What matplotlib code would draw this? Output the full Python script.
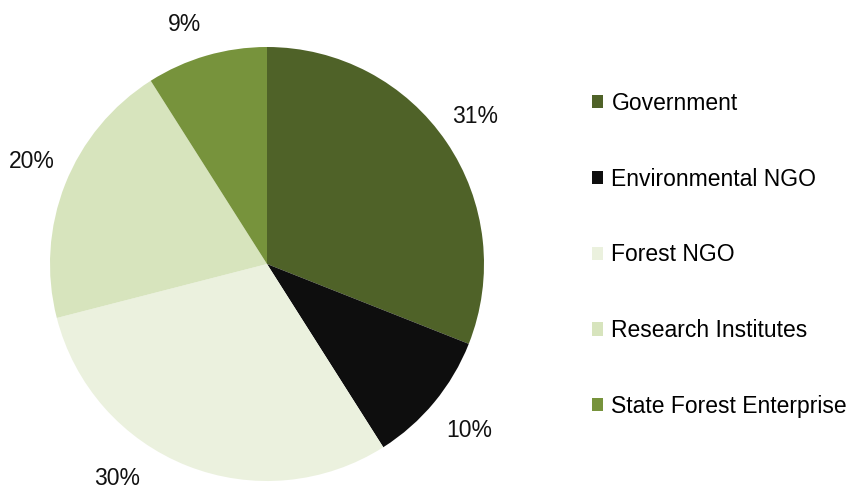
import matplotlib
matplotlib.use('Agg')
import numpy as np
import matplotlib.pyplot as plt

plt.rcParams['font.family'] = ['Liberation Sans', 'DejaVu Sans']

sectors = ['Government', 'Environmental NGO', 'Forest NGO',
           'Research Institutes', 'State Forest Enterprise']
shares = [31, 10, 30, 20, 9]
colors = ['#4f6228', '#0e0e0e', '#ebf1de', '#d7e4bd', '#77933c']
# small angular nudges (degrees) for the percentage labels
label_shift = [2, 1, -14, -3, 2.5]

W, H = 852, 494
fig = plt.figure(figsize=(W / 100, H / 100), dpi=100)
ax = fig.add_axes([0, 0, 1, 1])

cx, cy, r = 267, H - 264, 217
wedges, _ = ax.pie(shares, colors=colors, startangle=90, counterclock=False,
                   center=(cx, cy), radius=r, frame=True,
                   wedgeprops=dict(linewidth=0))
ax.set_xlim(0, W)
ax.set_ylim(0, H)
ax.axis('off')

# percentage labels outside each wedge
for w, val, shift in zip(wedges, shares, label_shift):
    mid = np.deg2rad((w.theta1 + w.theta2) / 2 + shift)
    lr = r * 1.19
    ax.text(cx + lr * np.cos(mid), cy + lr * np.sin(mid) - 5, f'{val}%',
            ha='center', va='center', fontsize=16.5, color='#111111')

leg = ax.legend(wedges, sectors, loc='upper left',
                bbox_to_anchor=(592 / W, 1 - 92 / H),
                bbox_transform=fig.transFigure,
                frameon=False, fontsize=16.5, handlelength=0.5,
                handleheight=0.5, handletextpad=0.35, labelspacing=2.3,
                borderaxespad=0, borderpad=0)

fig.savefig('out.png', dpi=100)
